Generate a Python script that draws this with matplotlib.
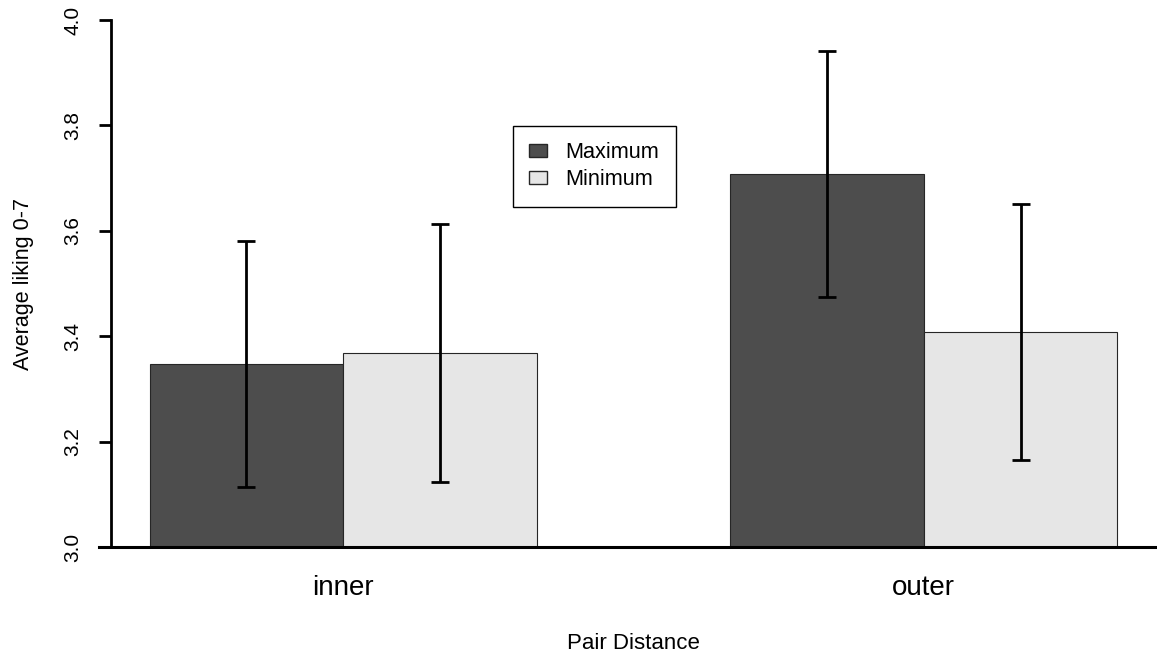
import matplotlib
matplotlib.use("Agg")
import matplotlib.pyplot as plt
from matplotlib.patches import Patch
import numpy as np

plt.rcParams['font.family'] = ['Liberation Sans', 'DejaVu Sans']

groups = ["inner", "outer"]
series = ["Maximum", "Minimum"]
means_max = [3.347, 3.708]
means_min = [3.368, 3.408]
err_max = [0.234, 0.233]
err_min = [0.245, 0.243]
colors = ["#4D4D4D", "#E6E6E6"]
yticks = [3.0, 3.2, 3.4, 3.6, 3.8, 4.0]

W, H = 1157, 654
ax_w = 1045
fig = plt.figure(figsize=(W / 100, H / 100), dpi=100)
ax = fig.add_axes([111 / W, (H - 547) / H, ax_w / W, 527 / H])

centers = np.array([2.0, 5.0])
for i, (vals, errs) in enumerate([(means_max, err_max), (means_min, err_min)]):
    x = centers + (i - 0.5)
    ax.bar(x, np.array(vals) - 3.0, bottom=3.0, width=1.0, color=colors[i],
           edgecolor="#262626", linewidth=0.8, label=series[i], zorder=2)
    ax.errorbar(x, vals, yerr=errs, fmt="none", ecolor="black", elinewidth=2.0,
                capsize=6.8, capthick=2.0, zorder=3)

ax.set_xlim(0.8, 6.2)
ax.set_ylim(3.0, 4.0)

for s in ["top", "right", "bottom"]:
    ax.spines[s].set_visible(False)
ax.spines["left"].set_linewidth(2.0)
ax.axhline(3.0, xmin=(99 - 111) / ax_w, xmax=(W - 111) / ax_w, color="black",
           linewidth=2.2, clip_on=False, zorder=4)

ax.set_yticks(yticks)
ax.set_yticklabels([f"{v:.1f}" for v in yticks], rotation=90, va="center")
ax.tick_params(axis="y", length=8.6, width=2.0, labelsize=15, pad=12)
ax.set_xticks(centers)
ax.set_xticklabels(groups)
ax.tick_params(axis="x", length=0, labelsize=20, pad=20.5)

ax.set_xlabel("Pair Distance", fontsize=16, labelpad=23)
ax.set_ylabel("Average liking 0-7", fontsize=15.5, labelpad=21)

handles = [Patch(facecolor=colors[0], edgecolor="#262626", label=series[0]),
           Patch(facecolor=colors[1], edgecolor="#262626", label=series[1])]
leg = ax.legend(handles=handles, loc="upper left",
                bbox_to_anchor=(513 / W, (H - 126) / H), bbox_transform=fig.transFigure,
                prop={"size": 15.6}, frameon=True, fancybox=False, edgecolor="black",
                framealpha=1, handlelength=0.83, handleheight=0.55,
                handletextpad=0.85, borderpad=0.75, labelspacing=0.28,
                borderaxespad=0)
leg.get_frame().set_linewidth(1.0)

fig.savefig("out.png", dpi=100)
